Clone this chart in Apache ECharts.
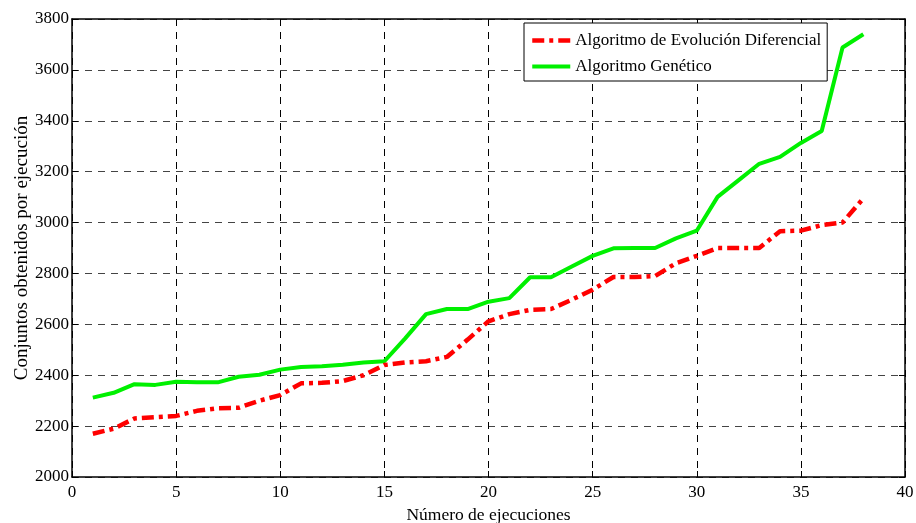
<!DOCTYPE html>
<html>
<head>
<meta charset="utf-8">
<script src="https://cdn.jsdelivr.net/npm/echarts@6/dist/echarts.min.js"></script>
<style>
html,body{margin:0;padding:0;background:#fff;}
#myChart{width:916px;height:523px;}
</style>
</head>
<body>
<div id="myChart"></div>
<script>
// ejecuciones 1..38
const ejecuciones = [1,2,3,4,5,6,7,8,9,10,11,12,13,14,15,16,17,18,19,20,21,22,23,24,25,26,27,28,29,30,31,32,33,34,35,36,37,38];
const evolucionDiferencial = [2170,2190,2230,2235,2240,2260,2270,2272,2300,2322,2368,2370,2377,2400,2440,2450,2455,2472,2540,2612,2640,2657,2660,2697,2736,2786,2786,2790,2840,2869,2900,2900,2900,2966,2968,2990,3000,3095];
const genetico = [2312,2331,2365,2362,2374,2372,2372,2394,2402,2422,2432,2435,2441,2450,2455,2545,2640,2660,2660,2689,2703,2785,2785,2827,2869,2899,2900,2900,2938,2968,3101,3166,3231,3258,3313,3360,3688,3740];
const nombres = ['Algoritmo de Evolución Diferencial', 'Algoritmo Genético'];

const myChart = echarts.init(document.getElementById('myChart'));
const fuente = 'Liberation Serif';

function pares(vals){
    return ejecuciones.map((x,i)=>[x, vals[i]]);
}

const option = {
    animation: false,
    backgroundColor: '#fff',
    textStyle: {fontFamily: fuente, color: '#000'},
    grid: {left: 72, right: 11, top: 19, bottom: 46, containLabel: false, outerBoundsMode: 'none'},
    legend: {
        orient: 'vertical',
        left: 524,
        top: 23,
        width: 300,
        data: [
            {name: nombres[0], lineStyle: {width: 4.5, type: [12, 5, 4, 5]}},
            {name: nombres[1], lineStyle: {width: 4}}
        ],
        itemWidth: 38,
        itemHeight: 12,
        itemGap: 9,
        padding: [9, 6, 6, 6],
        borderColor: '#000',
        borderWidth: 1,
        borderRadius: 0,
        backgroundColor: '#fff',
        itemStyle: {opacity: 0},
        textStyle: {fontFamily: fuente, fontSize: 17, color: '#000'}
    },
    xAxis: [{
        type: 'value',
        min: 0, max: 40, interval: 5,
        name: 'Número de ejecuciones',
        nameLocation: 'middle',
        nameGap: 29,
        nameMoveOverlap: false,
        nameTextStyle: {fontFamily: fuente, fontSize: 17.5, color: '#000'},
        axisLine: {lineStyle: {color: '#000', width: 1.5}},
        axisTick: {inside: true, length: 6, lineStyle: {color: '#000'}},
        axisLabel: {fontFamily: fuente, fontSize: 17, color: '#000', margin: 7},
        splitLine: {show: true, lineStyle: {color: '#000', type: [7, 6], width: 1}}
    }, {
        type: 'value',
        position: 'top',
        min: 0, max: 40, interval: 5,
        axisLine: {show: true, onZero: false, lineStyle: {color: '#000', width: 1.5}},
        axisTick: {inside: true, length: 6, lineStyle: {color: '#000'}},
        axisLabel: {show: false},
        splitLine: {show: false}
    }],
    yAxis: [{
        type: 'value',
        min: 2000, max: 3800, interval: 200,
        name: 'Conjuntos obtenidos por ejecución',
        nameLocation: 'middle',
        nameGap: 40,
        nameMoveOverlap: false,
        nameTextStyle: {fontFamily: fuente, fontSize: 19, color: '#000'},
        axisLine: {show: true, lineStyle: {color: '#000', width: 1.5}},
        axisTick: {show: true, inside: true, length: 6, lineStyle: {color: '#000'}},
        axisLabel: {fontFamily: fuente, fontSize: 17, color: '#000', margin: 3, formatter: v => String(v)},
        splitLine: {show: true, lineStyle: {color: '#444', type: [7, 6], width: 1}}
    }, {
        type: 'value',
        position: 'right',
        min: 2000, max: 3800, interval: 200,
        axisLine: {show: true, onZero: false, lineStyle: {color: '#000', width: 1.5}},
        axisTick: {show: true, inside: true, length: 6, lineStyle: {color: '#000'}},
        axisLabel: {show: false},
        splitLine: {show: false}
    }],
    series: [{
        name: nombres[0],
        type: 'line',
        data: pares(evolucionDiferencial),
        symbol: 'none',
        color: '#ff0000',
        lineStyle: {color: '#ff0000', width: 4.5, type: [12, 5, 4, 5]},
        z: 3
    }, {
        name: nombres[1],
        type: 'line',
        data: pares(genetico),
        symbol: 'none',
        color: '#00f000',
        lineStyle: {color: '#00f000', width: 4},
        z: 2
    }]
};
myChart.setOption(option);
</script>
</body>
</html>
